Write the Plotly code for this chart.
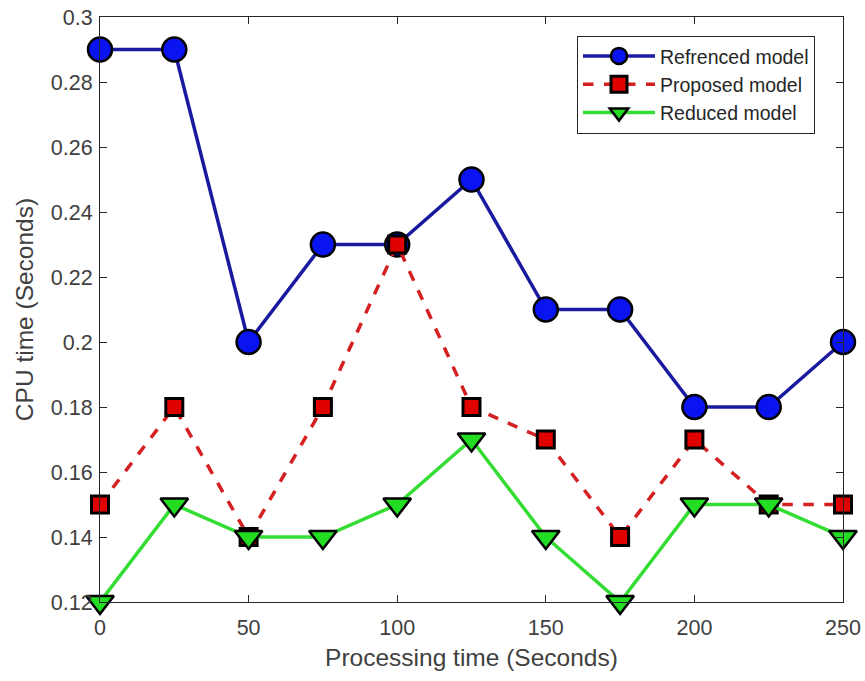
import plotly.graph_objects as go

x_vals = [0, 25, 50, 75, 100, 125, 150, 175, 200, 225, 250]
referenced = [0.29, 0.29, 0.20, 0.23, 0.23, 0.25, 0.21, 0.21, 0.18, 0.18, 0.20]
proposed = [0.15, 0.18, 0.14, 0.18, 0.23, 0.18, 0.17, 0.14, 0.17, 0.15, 0.15]
reduced = [0.12, 0.15, 0.14, 0.14, 0.15, 0.17, 0.14, 0.12, 0.15, 0.15, 0.14]
x_ticks = [0, 50, 100, 150, 200, 250]
y_ticks = [0.12, 0.14, 0.16, 0.18, 0.20, 0.22, 0.24, 0.26, 0.28, 0.30]
y_tick_text = ["0.12", "0.14", "0.16", "0.18", "0.2", "0.22", "0.24", "0.26", "0.28", "0.3"]

FONT = "Liberation Sans, Arial"
fig = go.Figure()
fig.add_trace(go.Scatter(
    x=x_vals, y=referenced, name="Refrenced model", mode="lines+markers",
    line=dict(color="#1a1aa0", width=3.5),
    marker=dict(symbol="circle", size=24, color="#0a14f0", line=dict(color="black", width=2.5)),
    cliponaxis=False))
fig.add_trace(go.Scatter(
    x=x_vals, y=proposed, name="Proposed model", mode="lines+markers",
    line=dict(color="#d42020", width=3.5, dash="dash"),
    marker=dict(symbol="square", size=17, color="#e00000", line=dict(color="black", width=3)),
    cliponaxis=False))
fig.add_trace(go.Scatter(
    x=x_vals, y=reduced, name="Reduced model", mode="lines+markers",
    line=dict(color="#33dd33", width=3.5),
    marker=dict(symbol="triangle-down", size=24, color="#22dd22", line=dict(color="black", width=2.5)),
    cliponaxis=False))

axis_common = dict(
    showline=True, linecolor="#262626", linewidth=1, mirror="allticks",
    ticks="inside", ticklen=7, tickcolor="#262626", showgrid=False, zeroline=False,
    tickfont=dict(family=FONT, size=21.5, color="#404040"), automargin=False,
)
fig.update_layout(
    width=865, height=681,
    margin=dict(l=100, r=22, t=17, b=79),
    plot_bgcolor="white", paper_bgcolor="white",
    xaxis=dict(range=[0, 250], tickvals=x_ticks, ticklabelstandoff=6,
               title=dict(text="Processing time (Seconds)", standoff=10,
                          font=dict(family=FONT, size=24.5, color="#404040")), **axis_common),
    yaxis=dict(range=[0.12, 0.30], tickvals=y_ticks, ticktext=y_tick_text, ticklabelstandoff=2,
               title=dict(text="CPU time (Seconds)", standoff=10,
                          font=dict(family=FONT, size=24.5, color="#404040")), **axis_common),
    legend=dict(x=0.642, y=0.968, xanchor="left", yanchor="top",
                bgcolor="white", bordercolor="#262626", borderwidth=1,
                font=dict(family=FONT, size=19.5, color="#262626"),
                itemwidth=72, tracegroupgap=0),
    showlegend=True,
)
fig.write_html("out.html")
